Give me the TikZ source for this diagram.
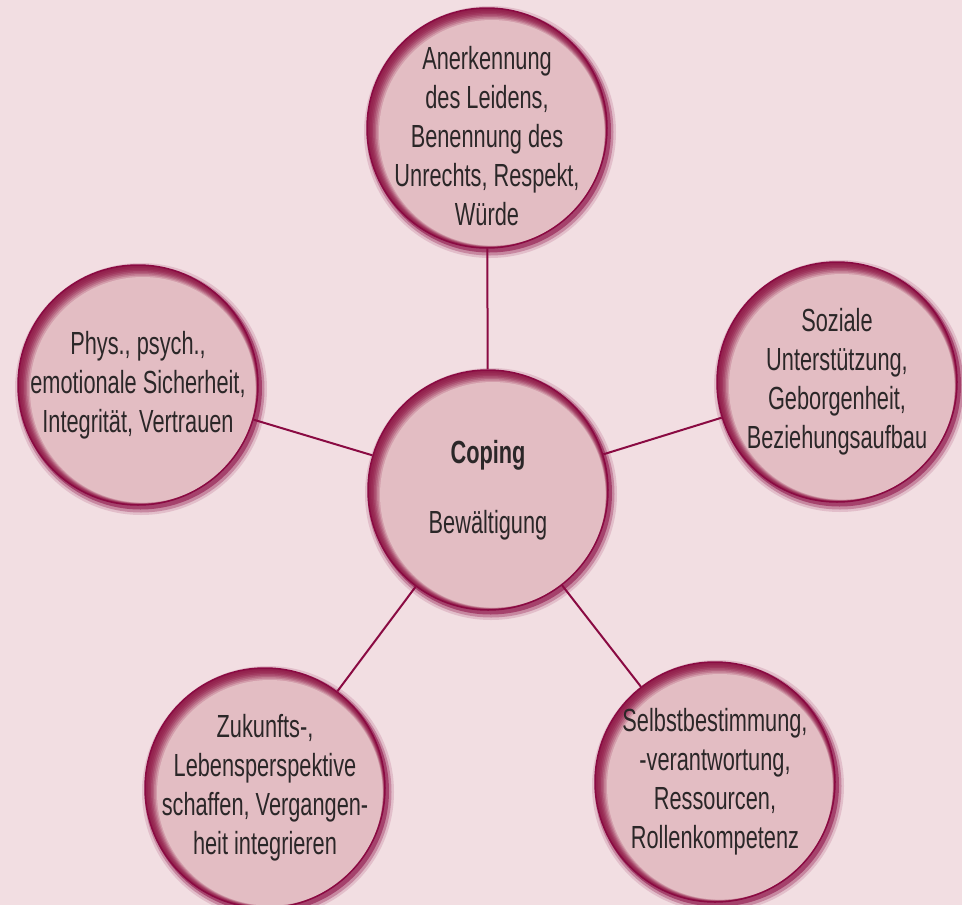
\documentclass[tikz,border=0pt]{standalone}
\usepackage{fontspec}
\setmainfont{Liberation Sans}[FakeStretch=0.68]
\usetikzlibrary{calc,backgrounds}

\definecolor{bgpink}{HTML}{F2DEE2}
\definecolor{discpink}{HTML}{E3BDC3}
\definecolor{rimred}{HTML}{931F4C}
\definecolor{linered}{HTML}{8A0A42}
\definecolor{textgray}{HTML}{2B2728}

\begin{document}
\begin{tikzpicture}[x=1pt, y=-1pt,
  bubble/.style={circle, minimum size=240pt, inner sep=0pt, draw=linered, line width=1.5pt},
  bubtext/.style={text=textgray, align=center, font=\fontsize{32}{39}\selectfont},
  link/.style={draw=linered, line width=2pt}]
\useasboundingbox (0,0) rectangle (962,905);

\node[bubble, label={[bubtext]center:\textbf{Coping}\\[31pt]Bewältigung}] (coping) at (488,490) {};
\node[bubble, label={[bubtext, yshift=-8pt]center:Anerkennung\\des Leidens,\\Benennung des\\Unrechts, Respekt,\\Würde}] (wuerde) at (487,128) {};
\node[bubble, label={[bubtext]center:Phys., psych.,\\emotionale Sicherheit,\\Integrität, Vertrauen}] (sicherheit) at (138,385) {};
\node[bubble, label={[bubtext]center:Soziale\\Unterstützung,\\Geborgenheit,\\Beziehungsaufbau}] (soziales) at (837,382) {};
\node[bubble, label={[bubtext]center:Zukunfts-,\\Lebensperspektive\\schaffen, Vergangen-\\heit integrieren}] (zukunft) at (265,788) {};
\node[bubble, label={[bubtext]center:Selbstbestimmung,\\-verantwortung,\\Ressourcen,\\Rollenkompetenz}] (selbst) at (715,782) {};

% background, connectors, soft shadows and shaded discs behind the borders
\begin{scope}[on background layer]
  \fill[bgpink] (0,0) rectangle (962,905);
  \foreach \n in {wuerde,sicherheit,soziales,zukunft,selbst}
    \draw[link] (coping) -- (\n);
  \foreach \n in {coping,wuerde,sicherheit,soziales,zukunft,selbst} {
    \fill[linered, opacity=0.15] ($(\n)+(3,4)$) circle [radius=126pt];
    \fill[linered, opacity=0.3] ($(\n)+(3,4)$) circle [radius=123.5pt];
    \fill[linered, opacity=0.55] ($(\n)+(2.5,3)$) circle [radius=121.5pt];
    \fill[rimred] (\n) circle [radius=120pt];
    \foreach \k/\m in {1/97,2/92,3/84,4/72,5/57,6/40,7/20,8/0}
      \fill[rimred!\m!discpink] ($(\n)+(0.6*\k,0.6*\k)$) circle [radius={(120-0.9*\k)*1pt}];
  }
\end{scope}
\end{tikzpicture}
\end{document}
